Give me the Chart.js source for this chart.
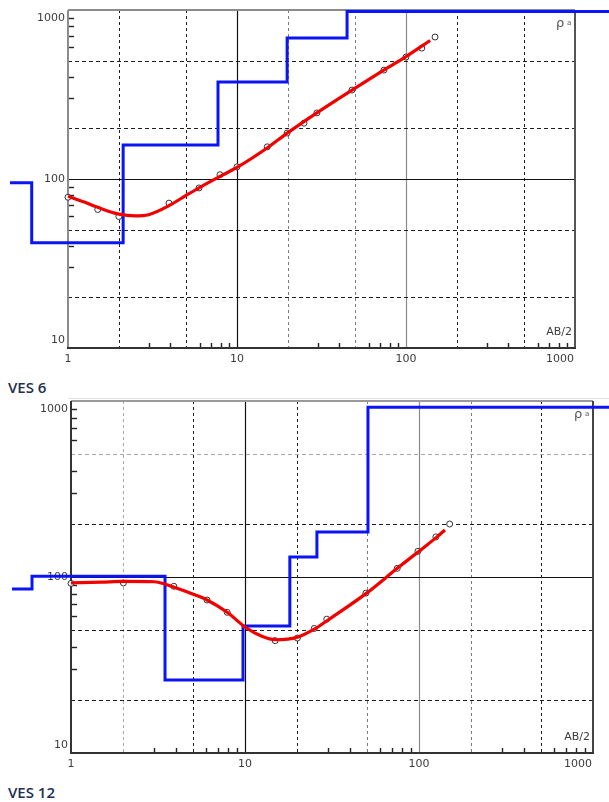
<!DOCTYPE html>
<html>
<head>
<meta charset="utf-8">
<title>VES 6 / VES 12</title>
<script src="https://cdn.jsdelivr.net/npm/chart.js@4.4.0/dist/chart.umd.min.js"></script>
<style>
  html, body { margin: 0; padding: 0; background: #fff; }
  body { width: 609px; height: 802px; position: relative; overflow: hidden; }
  .panel { position: absolute; left: 0; width: 609px; }
  .panel canvas { display: block; }
  .caption { position: absolute; left: 8px; font: 600 15px "Open Sans", sans-serif; color: #22304f; line-height: 15px; white-space: nowrap; }
  .rule { position: absolute; left: 68px; top: 398px; width: 541px; height: 1px; background: #e2e2e2; }
</style>
</head>
<body>
<div class="panel" style="top:0;height:370px"><canvas id="ves6" width="609" height="370"></canvas></div>
<div class="caption" style="top:380px">VES 6</div>
<div class="rule"></div>
<div class="panel" style="top:390px;height:380px"><canvas id="ves12" width="609" height="380"></canvas></div>
<div class="caption" style="top:785px">VES 12</div>

<script>
// Axis ticks shared by both soundings (log-log, AB/2 in m, rho_a in ohm-m)
const xLabelValues = [1, 10, 100, 1000];
const yLabelValues = [10, 100, 1000];
const xGridValues = [2, 5, 10, 20, 50, 100, 200, 500];
const yGridValues = [20, 50, 100, 200, 500];
const minorMultipliers = [3, 4, 6, 7, 8, 9];

// VES 6 — field apparent resistivity
const ves6Spacing  = [1, 1.5, 2, 3.96, 5.96, 7.93, 10, 15.1, 19.8, 24.9, 29.7, 47.9, 74, 100, 124, 148.5];
const ves6Apparent = [78, 66, 60, 72, 88.5, 106, 118, 155, 187, 214, 246, 336, 441, 527, 595, 692];
// VES 6 — fitted curve
const ves6FitSpacing = [1, 1.25, 1.5, 2, 2.5, 3, 4, 5, 6, 8, 10, 15, 20, 30, 50, 75, 100, 139];
const ves6FitRho     = [79, 73, 68, 62, 60.5, 61.5, 70, 80, 89, 104, 117, 152, 188, 248, 345, 445, 530, 660];
// VES 6 — layered model (step line breaks and layer resistivities)
const ves6LayerSpacing = [0.454, 0.61, 2.12, 7.72, 19.8, 44.8, 1589];
const ves6LayerRho     = [95, 42, 159, 375, 682, 980, 980];

// VES 12 — field apparent resistivity
const ves12Spacing  = [1, 2, 3.9, 6.05, 7.9, 14.9, 20, 25, 29.5, 49.5, 75, 98.6, 125, 150];
const ves12Apparent = [92, 92.5, 88.6, 74, 63, 43.5, 45, 51, 57.6, 81, 112, 140, 169, 200];
// VES 12 — fitted curve
const ves12FitSpacing = [1, 1.5, 2, 3, 3.85, 5, 6.05, 7.9, 10, 12.5, 15, 20, 25, 30, 50, 75, 100, 127, 141];
const ves12FitRho     = [92.5, 93.5, 94.5, 94, 88, 80, 74, 63, 52, 46, 44, 45.5, 50.5, 57, 81, 112, 140, 169, 185];
// VES 12 — layered model
const ves12LayerSpacing = [0.458, 0.597, 3.47, 9.74, 18.1, 25.9, 50.9, 1236];
const ves12LayerRho     = [85.5, 101, 26, 52.7, 130, 180, 920, 920];

const toPoints = (xs, ys) => xs.map((v, i) => ({ x: v, y: ys[i] }));

// grid line looks
const DARK = { c: '#1e1e1e', w: 1, solid: false };
const GREY = { c: '#7d7d7d', w: 1, solid: false };
const LIGHT = { c: '#a8a8a8', w: 1, solid: false };
const SOLID_BLACK = { c: '#111', w: 1.2, solid: true };
const SOLID_GREY = { c: '#8a8a8a', w: 1.2, solid: true };

function framePlugin(frame) {
  return {
    id: 'soundingFrame',
    beforeDatasetsDraw(chart) {
      const { ctx, chartArea: a, scales: { x, y } } = chart;
      ctx.save();
      const seg = (x1, y1, x2, y2, color, width, dash) => {
        ctx.beginPath();
        ctx.setLineDash(dash || []);
        ctx.strokeStyle = color;
        ctx.lineWidth = width;
        ctx.moveTo(x1, y1);
        ctx.lineTo(x2, y2);
        ctx.stroke();
      };
      // vertical grid
      xGridValues.forEach(v => {
        const st = frame.xGrid[v];
        const px = Math.round(x.getPixelForValue(v)) + 0.5;
        seg(px, a.top, px, a.bottom, st.c, st.w, st.solid ? [] : [3, 3]);
      });
      // horizontal grid
      yGridValues.forEach(v => {
        const st = frame.yGrid[v];
        const py = Math.round(y.getPixelForValue(v)) + 0.5;
        seg(a.left, py, a.right, py, st.c, st.w, st.solid ? [] : [4, 3]);
      });
      // minor ticks
      for (let dec = 1; dec <= 100; dec *= 10) {
        minorMultipliers.forEach(m => {
          const px = Math.round(x.getPixelForValue(m * dec)) + 0.5;
          seg(px, a.bottom, px, a.bottom - 5, '#222', 1.4);
        });
      }
      for (let dec = 10; dec <= 100; dec *= 10) {
        minorMultipliers.forEach(m => {
          const py = Math.round(y.getPixelForValue(m * dec)) + 0.5;
          seg(a.left, py, a.left + 6, py, '#222', 1.4);
        });
      }
      // frame
      seg(a.left, a.top, a.right, a.top, frame.top, 2);
      seg(a.right, a.top, a.right, a.bottom, frame.right, 2);
      seg(a.left, a.top, a.left, a.bottom, frame.left, 2);
      seg(a.left - 1, a.bottom, a.right + 1, a.bottom, frame.bottom, 2);

      // tick labels
      ctx.setLineDash([]);
      ctx.fillStyle = '#3c3c3c';
      ctx.font = '11px "DejaVu Sans", sans-serif';
      ctx.textAlign = 'right';
      ctx.textBaseline = 'middle';
      yLabelValues.forEach(v => {
        const py = Math.min(Math.max(y.getPixelForValue(v), a.top + 8), a.bottom - 8);
        ctx.fillText(String(v), a.left - 3, py);
      });
      ctx.textAlign = 'center';
      xLabelValues.forEach(v => {
        const px = Math.min(x.getPixelForValue(v), a.right - 15);
        ctx.fillText(String(v), px, a.bottom + 11);
      });
      // axis names
      ctx.textAlign = 'right';
      ctx.fillText('AB/2', a.right - 3, a.bottom - 16);
      ctx.textAlign = 'left';
      ctx.textBaseline = 'alphabetic';
      ctx.fillStyle = '#555';
      ctx.font = '13px "DejaVu Sans", sans-serif';
      ctx.fillText('ρ', a.right - 19, a.top + 17);
      ctx.font = '7px "DejaVu Sans", sans-serif';
      ctx.fillText('a', a.right - 8, a.top + 15);
      ctx.restore();
    }
  };
}

function logAxis(lo, hi) {
  return {
    type: 'logarithmic',
    display: false,
    afterDataLimits: s => { s.min = lo; s.max = hi; },
    afterBuildTicks: s => { s.min = lo; s.max = hi; }
  };
}

function buildSounding(id, padding, frame, field, fit, model) {
  return new Chart(document.getElementById(id), {
    type: 'line',
    data: {
      datasets: [
        {
          label: 'fitted curve',
          data: fit,
          borderColor: '#f20000',
          borderWidth: 3.2,
          pointRadius: 0,
          cubicInterpolationMode: 'monotone',
          fill: false
        },
        {
          label: 'field data',
          data: field,
          showLine: false,
          pointRadius: 3,
          pointBorderWidth: 1,
          pointBorderColor: '#333',
          pointBackgroundColor: '#fff'
        },
        {
          label: 'layer model',
          data: model,
          stepped: 'before',
          borderColor: '#0a14f5',
          borderWidth: 3,
          pointRadius: 0,
          fill: false,
          clip: false
        }
      ]
    },
    options: {
      responsive: false,
      animation: false,
      devicePixelRatio: 1,
      events: [],
      layout: { padding },
      plugins: { legend: { display: false }, tooltip: { enabled: false } },
      scales: { x: logAxis(1, 1000), y: logAxis(10, 1000) }
    },
    plugins: [framePlugin(frame)]
  });
}

buildSounding('ves6',
  { left: 68, right: 34, top: 10, bottom: 22 },
  {
    xGrid: { 2: DARK, 5: DARK, 10: SOLID_BLACK, 20: GREY, 50: GREY, 100: SOLID_GREY, 200: DARK, 500: DARK },
    yGrid: { 20: DARK, 50: DARK, 100: SOLID_BLACK, 200: DARK, 500: DARK },
    top: '#8c8c8c', right: '#555', left: '#8c8c8c', bottom: '#333'
  },
  toPoints(ves6Spacing, ves6Apparent),
  toPoints(ves6FitSpacing, ves6FitRho),
  toPoints(ves6LayerSpacing, ves6LayerRho)
);

buildSounding('ves12',
  { left: 71, right: 16, top: 11, bottom: 17 },
  {
    xGrid: { 2: LIGHT, 5: DARK, 10: SOLID_BLACK, 20: DARK, 50: GREY, 100: SOLID_GREY, 200: GREY, 500: DARK },
    yGrid: { 20: DARK, 50: DARK, 100: SOLID_BLACK, 200: DARK, 500: LIGHT },
    top: '#9a9a9a', right: '#444', left: '#333', bottom: '#333'
  },
  toPoints(ves12Spacing, ves12Apparent),
  toPoints(ves12FitSpacing, ves12FitRho),
  toPoints(ves12LayerSpacing, ves12LayerRho)
);
</script>
</body>
</html>
